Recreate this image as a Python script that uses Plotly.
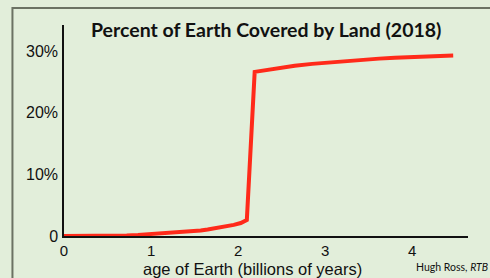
import plotly.graph_objects as go

# Data
age_billion_years = [0.0, 0.4, 0.6, 0.72, 0.85, 1.0, 1.1, 1.2, 1.3, 1.4, 1.48, 1.57,
                     1.65, 1.75, 1.87, 1.95, 2.03, 2.10,
                     2.19, 2.35, 2.48, 2.65, 2.85, 3.05, 3.25, 3.45, 3.62, 3.8,
                     4.0, 4.2, 4.47]
land_percent = [0.0, 0.0, 0.04, 0.1, 0.18, 0.3, 0.4, 0.5, 0.6, 0.7, 0.78, 0.9,
                1.05, 1.25, 1.55, 1.8, 2.1, 2.6,
                26.6, 26.95, 27.3, 27.6, 27.9, 28.15, 28.4, 28.6, 28.75, 28.9,
                29.0, 29.12, 29.25]

x_tick_vals = [0, 1, 2, 3, 4]
x_tick_text = ["0", "1", "2", "3", "4"]
y_tick_vals = [0, 10, 20, 30]
y_tick_text = ["0", "10%", "20%", "30%"]

title_text = "<b>Percent of Earth Covered by Land (2018)</b>"
x_title_text = "age of Earth (billions of years)"
credit_text = "Hugh Ross, <i>RTB</i>"

BG = "#e2eeda"

fig = go.Figure()
fig.add_trace(go.Scatter(
    x=age_billion_years, y=land_percent, mode="lines",
    line=dict(color="#ff2a1a", width=4, shape="linear"),
    hoverinfo="skip", cliponaxis=False,
))

fig.update_layout(
    width=490, height=278,
    margin=dict(l=64, r=22, t=25, b=42),
    paper_bgcolor=BG, plot_bgcolor=BG,
    showlegend=False,
    font=dict(family="Liberation Sans, Arial, sans-serif", color="#111111"),
    xaxis=dict(
        range=[0, 4.64], tickvals=x_tick_vals, ticktext=x_tick_text,
        showgrid=False, zeroline=False, showline=True, linecolor="#111111",
        linewidth=1.5, ticks="", tickfont=dict(size=15), ticklabelstandoff=0,
        fixedrange=True,
    ),
    yaxis=dict(
        range=[0, 34.2], tickvals=y_tick_vals, ticktext=y_tick_text,
        showgrid=False, zeroline=False, showline=True, linecolor="#111111",
        linewidth=1.5, ticks="", tickfont=dict(size=16), ticklabelstandoff=1,
        fixedrange=True,
    ),
    shapes=[dict(
        type="rect", xref="paper", yref="paper",
        x0=-0.1276, x1=1.3, y0=-0.4, y1=1.0806,
        line=dict(color="#6b7263", width=2), fillcolor="rgba(0,0,0,0)",
        layer="below",
    )],
    annotations=[
        dict(text=title_text, xref="paper", yref="paper", x=0.5, y=1.0,
             xanchor="center", yanchor="middle", yshift=-4, showarrow=False,
             font=dict(family="Lato, Open Sans, sans-serif", size=19.5, color="#111111")),
        dict(text=x_title_text, xref="paper", yref="paper", x=0.467, y=0,
             xanchor="center", yanchor="middle", yshift=-33, showarrow=False,
             font=dict(size=16.5, color="#111111")),
        dict(text=credit_text, xref="paper", yref="paper", x=1.0545, y=0,
             xanchor="right", yanchor="middle", yshift=-31, showarrow=False,
             font=dict(family="Lato, Open Sans, sans-serif", size=10.5, color="#111111")),
    ],
)

fig.write_html(
    "out.html",
    config={"displayModeBar": False},
    post_script="document.body.style.margin='0';document.body.style.overflow='hidden';",
)
